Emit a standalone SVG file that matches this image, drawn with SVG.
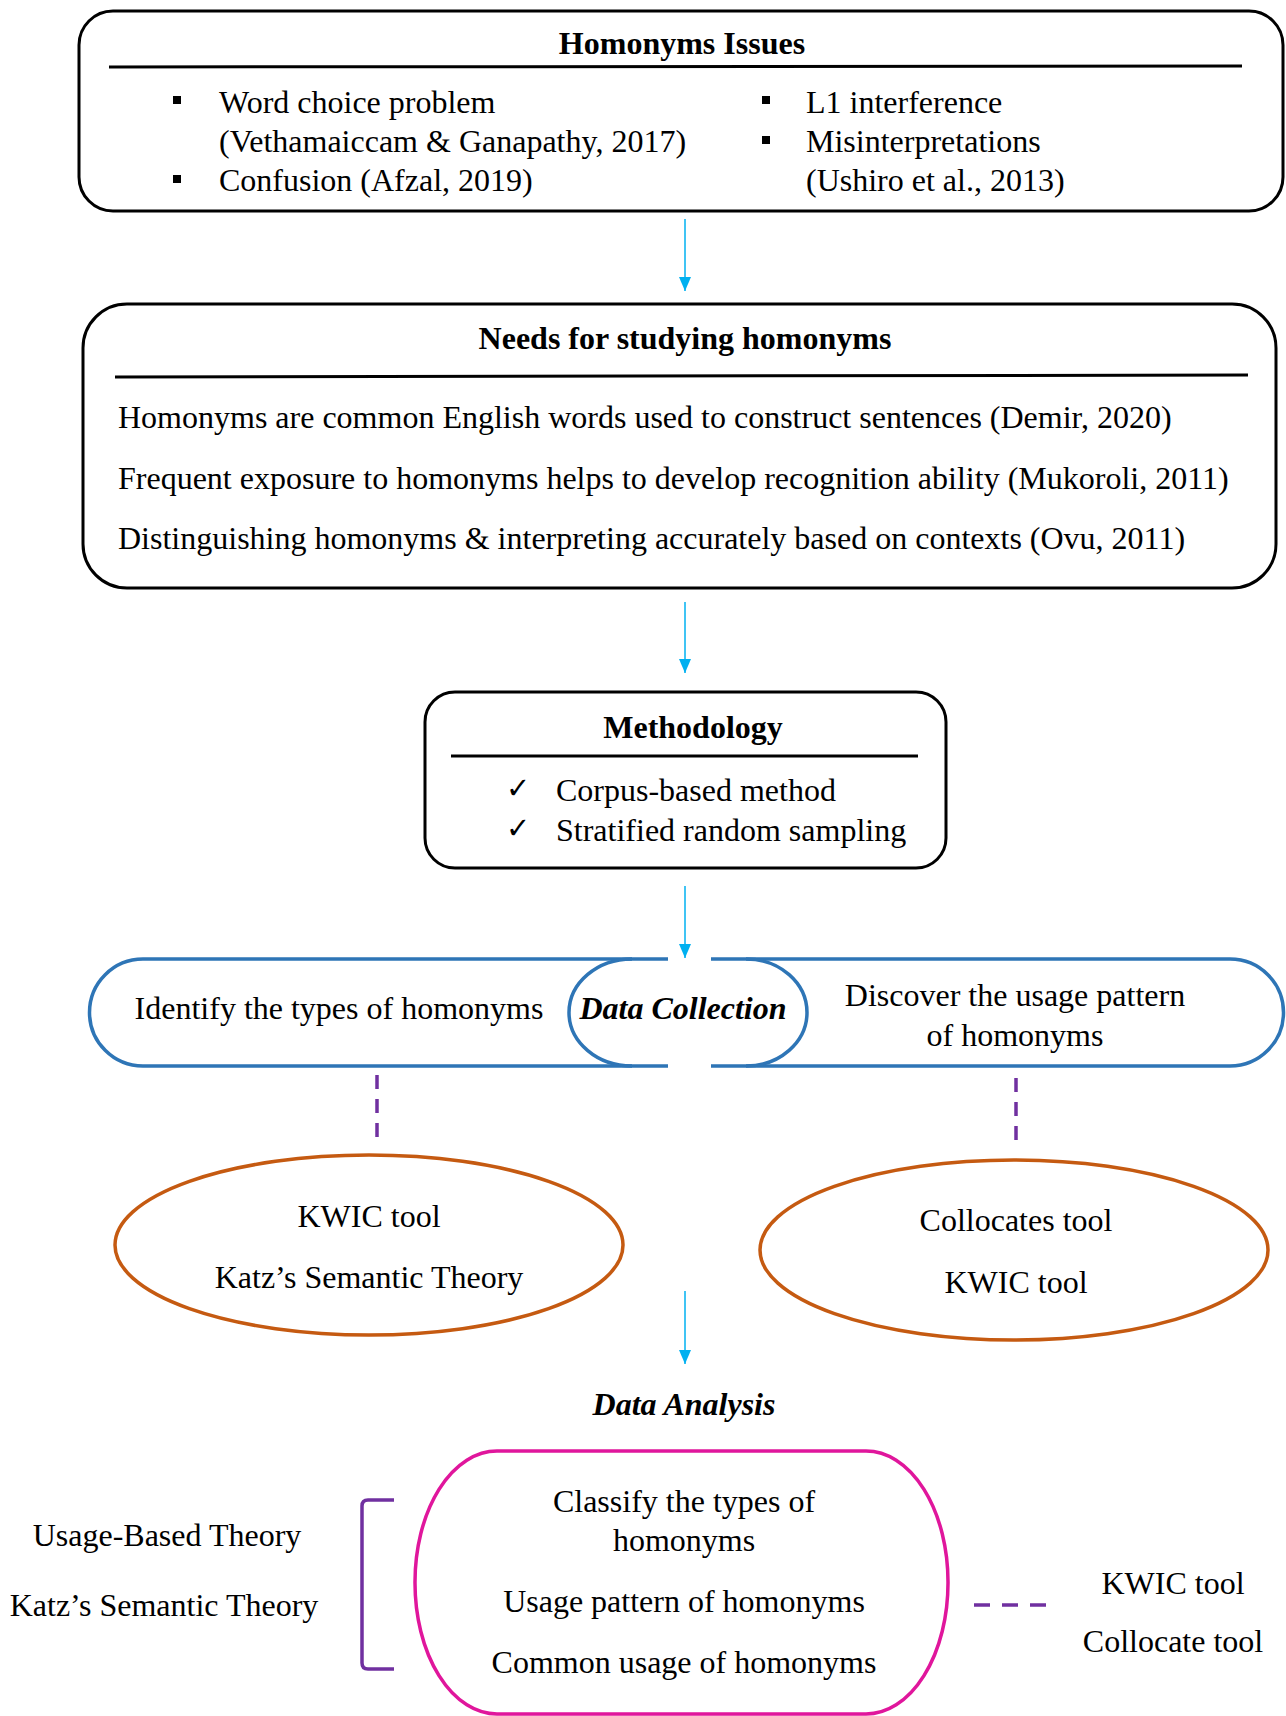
<svg xmlns="http://www.w3.org/2000/svg" width="1286" height="1716" viewBox="0 0 1286 1716">
<style>
text{font-family:"Liberation Serif","Times New Roman",serif;font-size:32px;fill:#000}
.c{text-anchor:middle}
.b{font-weight:bold}
.bi{font-weight:bold;font-style:italic}
.box{fill:#fff;stroke:#000;stroke-width:3}
.rule{stroke:#000;stroke-width:3}
.arrow{stroke:#00B0F0;stroke-width:1.5;fill:none;marker-end:url(#ah)}
.blue{fill:none;stroke:#2E75B6;stroke-width:3.5}
.orange{fill:#fff;stroke:#C55A11;stroke-width:3.5}
.dash{stroke:#7030A0;stroke-width:3.5;stroke-dasharray:14 10;fill:none}
.chk{font-family:"DejaVu Sans",sans-serif;font-size:29px}
</style>
<defs>
<marker id="ah" markerWidth="14" markerHeight="12" refX="14" refY="6" orient="auto" markerUnits="userSpaceOnUse" viewBox="0 0 14 12">
<path d="M0,0 L14,6 L0,12 Z" fill="#00B0F0"/>
</marker>
</defs>

<g id="connectors">
<line class="arrow" x1="685" y1="219" x2="685" y2="291"/>
<line class="arrow" x1="685" y1="602" x2="685" y2="673"/>
<line class="arrow" x1="685" y1="886" x2="685" y2="958"/>
<line class="arrow" x1="685" y1="1291" x2="685" y2="1364"/>
<line class="dash" x1="377" y1="1075" x2="377" y2="1147"/>
<line class="dash" x1="1016" y1="1078" x2="1016" y2="1150"/>
<line class="dash" x1="974" y1="1605" x2="1046" y2="1605" style="stroke-dasharray:16 12"/>
<path d="M394 1500 L368 1500 Q362 1500 362 1506 L362 1663 Q362 1669 368 1669 L394 1669" fill="none" stroke="#7030A0" stroke-width="3.5"/>
</g>

<g id="homonyms-issues">
<rect class="box" x="79" y="11" width="1204" height="200" rx="34"/>
<text class="c b" x="682" y="54">Homonyms Issues</text>
<line class="rule" x1="109" y1="67" x2="1242" y2="66"/>
<rect x="173" y="96" width="8" height="8"/>
<text x="219" y="113">Word choice problem</text>
<text x="219" y="152">(Vethamaiccam &amp; Ganapathy, 2017)</text>
<rect x="173" y="175" width="8" height="8"/>
<text x="219" y="191">Confusion (Afzal, 2019)</text>
<rect x="762" y="96" width="8" height="8"/>
<text x="806" y="113">L1 interference</text>
<rect x="762" y="136" width="8" height="8"/>
<text x="806" y="152">Misinterpretations</text>
<text x="806" y="191">(Ushiro et al., 2013)</text>
</g>

<g id="needs">
<rect class="box" x="83" y="304" width="1193" height="284" rx="44"/>
<text class="c b" x="685" y="349">Needs for studying homonyms</text>
<line class="rule" x1="115" y1="377" x2="1248" y2="375"/>
<text x="118" y="428">Homonyms are common English words used to construct sentences (Demir, 2020)</text>
<text x="118" y="489">Frequent exposure to homonyms helps to develop recognition ability (Mukoroli, 2011)</text>
<text x="118" y="549">Distinguishing homonyms &amp; interpreting accurately based on contexts (Ovu, 2011)</text>
</g>

<g id="methodology">
<rect class="box" x="425" y="692" width="521" height="176" rx="30"/>
<text class="c b" x="693" y="738">Methodology</text>
<line class="rule" x1="451" y1="756" x2="918" y2="756"/>
<text class="chk" x="506" y="798">✓</text>
<text x="556" y="801">Corpus-based method</text>
<text class="chk" x="506" y="838">✓</text>
<text x="556" y="841">Stratified random sampling</text>
</g>

<g id="data-collection">
<path class="blue" d="M668 959 L143 959 A53.5 53.5 0 0 0 143 1066 L668 1066"/>
<path class="blue" d="M711 959 L1230 959 A53.5 53.5 0 0 1 1230 1066 L711 1066"/>
<path class="blue" d="M632 959 A63 53.5 0 0 0 632 1066"/>
<path class="blue" d="M746 959 A61 53.5 0 0 1 746 1066"/>
<text class="c" x="339" y="1019">Identify the types of homonyms</text>
<text class="c bi" x="683" y="1019">Data Collection</text>
<text class="c" x="1015" y="1006">Discover the usage pattern</text>
<text class="c" x="1015" y="1046">of homonyms</text>
</g>

<g id="tools-left">
<ellipse class="orange" cx="369" cy="1245" rx="254" ry="90"/>
<text class="c" x="369" y="1227">KWIC tool</text>
<text class="c" x="369" y="1288">Katz’s Semantic Theory</text>
</g>

<g id="tools-right">
<ellipse class="orange" cx="1014" cy="1250" rx="254" ry="90"/>
<text class="c" x="1016" y="1231">Collocates tool</text>
<text class="c" x="1016" y="1293">KWIC tool</text>
</g>

<g id="data-analysis">
<text class="c bi" x="684" y="1415">Data Analysis</text>
<rect x="415" y="1451" width="533" height="263" rx="82" ry="131" fill="#fff" stroke="#E0169C" stroke-width="3.5"/>
<text class="c" x="684" y="1512">Classify the types of</text>
<text class="c" x="684" y="1551">homonyms</text>
<text class="c" x="684" y="1612">Usage pattern of homonyms</text>
<text class="c" x="684" y="1673">Common usage of homonyms</text>
</g>

<g id="theories">
<text class="c" x="167" y="1546">Usage-Based Theory</text>
<text class="c" x="164" y="1616">Katz’s Semantic Theory</text>
</g>

<g id="analysis-tools">
<text class="c" x="1173" y="1594">KWIC tool</text>
<text class="c" x="1173" y="1652">Collocate tool</text>
</g>
</svg>
